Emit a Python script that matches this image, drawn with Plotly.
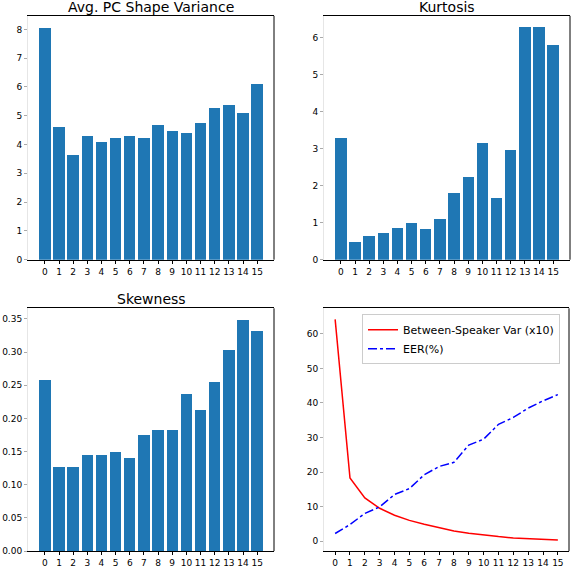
import plotly.graph_objects as go

idx = list(range(16))

# bar heights
shape_var = [8.05, 4.63, 3.63, 4.29, 4.08, 4.22, 4.29, 4.22, 4.70, 4.48, 4.39, 4.77, 5.29, 5.39, 5.11, 6.11]
kurtosis = [3.29, 0.47, 0.65, 0.73, 0.87, 1.00, 0.84, 1.11, 1.81, 2.24, 3.15, 1.67, 2.96, 6.27, 6.27, 5.81]
skewness = [0.258, 0.127, 0.127, 0.144, 0.144, 0.149, 0.140, 0.175, 0.182, 0.182, 0.236, 0.212, 0.255, 0.303, 0.348, 0.332]

# bottom right lines
between_var = [64.2, 18.3, 12.5, 9.5, 7.5, 6.0, 4.9, 3.8, 2.9, 2.3, 1.7, 1.3, 0.9, 0.7, 0.4, 0.3]
eer = [2.2, 4.8, 8.0, 9.9, 13.5, 15.2, 19.2, 21.6, 22.8, 27.8, 29.5, 33.8, 35.8, 38.5, 40.6, 42.4]

titles = ["Avg. PC Shape Variance", "Kurtosis", "Skewness"]

blue = "#1f77b4"
font = "DejaVu Sans"
W, H = 572, 570

fig = go.Figure()
fig.add_trace(go.Bar(x=idx, y=shape_var, width=0.8, marker=dict(color=blue, line_width=0),
                     xaxis="x", yaxis="y", showlegend=False))
fig.add_trace(go.Bar(x=idx, y=kurtosis, width=0.8, marker=dict(color=blue, line_width=0),
                     xaxis="x2", yaxis="y2", showlegend=False))
fig.add_trace(go.Bar(x=idx, y=skewness, width=0.8, marker=dict(color=blue, line_width=0),
                     xaxis="x3", yaxis="y3", showlegend=False))
fig.add_trace(go.Scatter(x=idx, y=between_var, mode="lines", name="Between-Speaker Var (x10)",
                         line=dict(color="red", width=1.5), xaxis="x4", yaxis="y4"))
fig.add_trace(go.Scatter(x=idx, y=eer, mode="lines", name="EER(%)",
                         line=dict(color="blue", width=1.5, dash="dashdot"), xaxis="x4", yaxis="y4"))

# panel boxes in pixels (left, right, top, bottom)
boxes = [(28, 274, 16, 262), (324, 570, 16, 262), (28, 274, 311, 556), (324, 569, 311, 556)]

common = dict(showline=True, linewidth=1, showgrid=False, zeroline=False,
              ticks="outside", ticklen=3,
              tickfont=dict(size=9, color="black", family=font))

def dom_x(b):
    return [b[0] / W, b[1] / W]

def dom_y(b):
    return [1 - b[3] / H, 1 - b[2] / H]

lay = {}
shapes = []
names = ["", "2", "3", "4"]
xranges = [[-1.19, 16.19]] * 3 + [[-0.75, 15.75]]
yranges = [[0, 8.47], [0, 6.58], [0, 0.366], [-2.9, 67.4]]
ydticks = [1, 1, 0.05, 10]
for i, n in enumerate(names):
    b = boxes[i]
    lay["xaxis" + n] = dict(common, domain=dom_x(b), anchor="y" + n, range=xranges[i],
                            mirror=True, linecolor="black", tickcolor="black",
                            tickmode="array", tickvals=idx)
    # left spine looks very faint in the source image
    lay["yaxis" + n] = dict(common, domain=dom_y(b), anchor="x" + n, range=yranges[i],
                            mirror=False, linecolor="#e6e6e6", tickcolor="#aaaaaa",
                            tickmode="linear", tick0=0, dtick=ydticks[i])
    shapes.append(dict(type="line", xref="paper", yref="paper",
                       x0=b[1] / W, x1=b[1] / W, y0=dom_y(b)[0], y1=dom_y(b)[1],
                       line=dict(color="black", width=1)))
lay["yaxis3"]["tickformat"] = ".2f"

annotations = []
for i, t in enumerate(titles):
    b = boxes[i]
    annotations.append(dict(text=t, xref="paper", yref="paper", x=(b[0] + b[1]) / 2 / W,
                            y=1 - b[2] / H, xanchor="center", yanchor="bottom", yshift=-1,
                            showarrow=False, font=dict(size=14, color="black", family=font)))

fig.update_layout(
    width=W, height=H,
    margin=dict(l=0, r=0, t=0, b=0),
    paper_bgcolor="white", plot_bgcolor="white",
    font=dict(family=font, color="black"),
    bargap=0,
    annotations=annotations,
    shapes=shapes,
    legend=dict(x=362 / W, y=1 - 317 / H, xanchor="left", yanchor="top",
                bgcolor="rgba(255,255,255,0.8)", bordercolor="#cccccc", borderwidth=1,
                font=dict(size=11, color="black", family=font), tracegroupgap=0,
                itemwidth=30),
    **lay,
)

# drop the default page margin so the figure sits at the window corner
fig.write_html("out.html", config={"displayModeBar": False},
               post_script="document.body.style.margin='0';")
